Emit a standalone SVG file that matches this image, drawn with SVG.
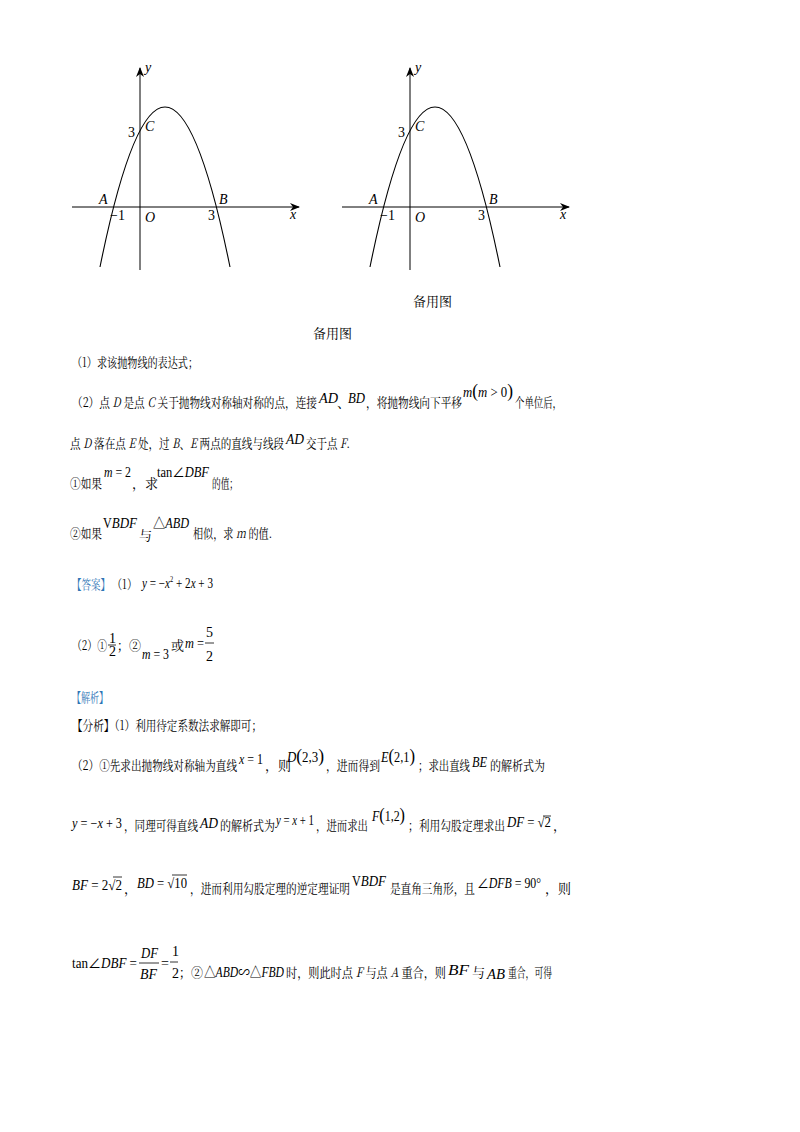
<svg xmlns="http://www.w3.org/2000/svg" width="800" height="1132" viewBox="0 0 800 1132">
<style>
text{font-family:"Liberation Serif","Noto Sans CJK SC",serif;font-size:14px;fill:#000}
.c{font-family:"Noto Serif CJK SC","Noto Sans CJK SC",serif;font-size:13px}
.i{font-style:italic}
.b{fill:#2e75b6}
.ax{stroke:#000;stroke-width:1;fill:none}
.cv{stroke:#000;stroke-width:1.1;fill:none}
.fr{stroke:#000;stroke-width:0.8}
</style>
<defs><marker id="ar" markerWidth="10" markerHeight="8" refX="9" refY="4" orient="auto" markerUnits="userSpaceOnUse"><path d="M0,0 L10,4 L0,8 L3,4 Z" fill="#000"/></marker></defs>
<g id="graph1">
<line class="ax" x1="72" y1="207" x2="299" y2="207" marker-end="url(#ar)"/>
<line class="ax" x1="140" y1="270" x2="140" y2="68" marker-end="url(#ar)"/>
<path class="cv" d="M100,267 Q165,-53 230,267"/>
<text class="i" x="145" y="72">y</text><text x="128" y="137">3</text><text class="i" x="145" y="131">C</text>
<text class="i" x="99" y="204">A</text><text class="i" x="219" y="204">B</text>
<text x="110" y="220">−1</text><text class="i" x="145" y="222">O</text><text x="208" y="220">3</text><text class="i" x="290" y="219">x</text>
</g>
<g id="graph2">
<line class="ax" x1="342" y1="207" x2="569" y2="207" marker-end="url(#ar)"/>
<line class="ax" x1="410" y1="270" x2="410" y2="68" marker-end="url(#ar)"/>
<path class="cv" d="M370,267 Q435,-53 500,267"/>
<text class="i" x="415" y="72">y</text><text x="398" y="137">3</text><text class="i" x="415" y="131">C</text>
<text class="i" x="369" y="204">A</text><text class="i" x="489" y="204">B</text>
<text x="380" y="220">−1</text><text class="i" x="415" y="222">O</text><text x="478" y="220">3</text><text class="i" x="560" y="219">x</text>
</g>
<text class="c" x="413" y="306">备用图</text>
<text class="c" x="313" y="338">备用图</text>

<text class="c" x="72" y="367" textLength="126" lengthAdjust="spacingAndGlyphs">（1）求该抛物线的表达式；</text>

<text class="c" x="72" y="407" textLength="245" lengthAdjust="spacingAndGlyphs">（2）点 <tspan class="i">D</tspan> 是点 <tspan class="i">C</tspan> 关于抛物线对称轴对称的点，连接</text>
<text class="i" x="319" y="403" font-size="15" textLength="19" lengthAdjust="spacingAndGlyphs">AD</text><text class="c" x="337" y="407">、</text><text class="i" x="348" y="403" font-size="15" textLength="17" lengthAdjust="spacingAndGlyphs">BD</text>
<text class="c" x="366" y="407" textLength="96" lengthAdjust="spacingAndGlyphs">，将抛物线向下平移</text>
<text x="463" y="397" font-size="15" textLength="50" lengthAdjust="spacingAndGlyphs"><tspan class="i">m</tspan><tspan font-size="19">(</tspan><tspan class="i">m</tspan> &gt; 0<tspan font-size="19">)</tspan></text>
<text class="c" x="515" y="407" textLength="47" lengthAdjust="spacingAndGlyphs">个单位后，</text>

<text class="c" x="70" y="448" textLength="214" lengthAdjust="spacingAndGlyphs">点 <tspan class="i">D</tspan> 落在点 <tspan class="i">E</tspan> 处，过 <tspan class="i">B</tspan>、<tspan class="i">E</tspan> 两点的直线与线段</text>
<text class="i" x="286" y="444" font-size="15" textLength="18" lengthAdjust="spacingAndGlyphs">AD</text>
<text class="c" x="306" y="448" textLength="44" lengthAdjust="spacingAndGlyphs">交于点 <tspan class="i">F</tspan>.</text>

<text class="c" x="70" y="488" textLength="32" lengthAdjust="spacingAndGlyphs">①如果</text>
<text x="104" y="477" font-size="15" textLength="27" lengthAdjust="spacingAndGlyphs"><tspan class="i">m</tspan> = 2</text>
<text class="c" x="132" y="488">，求</text>
<text x="157" y="477" font-size="15" textLength="52" lengthAdjust="spacingAndGlyphs">tan∠<tspan class="i">DBF</tspan></text>
<text class="c" x="212" y="488" textLength="26" lengthAdjust="spacingAndGlyphs">的值；</text>

<text class="c" x="70" y="538" textLength="32" lengthAdjust="spacingAndGlyphs">②如果</text>
<text x="103" y="528" font-size="17" textLength="34" lengthAdjust="spacingAndGlyphs">V<tspan class="i" font-size="15">BDF</tspan></text>
<text class="c" x="139" y="540">与</text>
<text x="153" y="528" font-size="15" textLength="36" lengthAdjust="spacingAndGlyphs">△<tspan class="i">ABD</tspan></text>
<text class="c" x="193" y="538" textLength="79" lengthAdjust="spacingAndGlyphs">相似，求 <tspan class="i">m</tspan> 的值.</text>

<text class="c b" x="72" y="589" textLength="38" lengthAdjust="spacingAndGlyphs">【答案】</text>
<text class="c" x="112" y="589" textLength="25" lengthAdjust="spacingAndGlyphs">（1）</text>
<text x="142" y="588" font-size="13" textLength="71" lengthAdjust="spacingAndGlyphs"><tspan class="i">y</tspan> = −<tspan class="i">x</tspan><tspan font-size="8" dy="-6">2</tspan><tspan dy="6"> + 2</tspan><tspan class="i">x</tspan> + 3</text>

<text class="c" x="72" y="650" textLength="35" lengthAdjust="spacingAndGlyphs">（2）①</text>
<text x="109" y="643" font-size="11">1</text><line class="fr" x1="108" y1="645" x2="116" y2="645"/><text x="109" y="656" font-size="11">2</text>
<text class="c" x="117" y="650" textLength="24" lengthAdjust="spacingAndGlyphs">；②</text>
<text x="142" y="659" font-size="15" textLength="27" lengthAdjust="spacingAndGlyphs"><tspan class="i">m</tspan> = 3</text>
<text class="c" x="171" y="650">或</text>
<text x="185" y="648" font-size="15" textLength="19" lengthAdjust="spacingAndGlyphs"><tspan class="i">m</tspan> =</text>
<text x="206" y="637" font-size="14">5</text><line class="fr" x1="205" y1="643" x2="214" y2="643"/><text x="206" y="661" font-size="14">2</text>

<text class="c b" x="72" y="702" textLength="36" lengthAdjust="spacingAndGlyphs">【解析】</text>
<text class="c" x="72" y="730" textLength="190" lengthAdjust="spacingAndGlyphs">【分析】（1）利用待定系数法求解即可；</text>

<text class="c" x="72" y="770" textLength="165" lengthAdjust="spacingAndGlyphs">（2）①先求出抛物线对称轴为直线</text>
<text x="239" y="764" font-size="15" textLength="24" lengthAdjust="spacingAndGlyphs"><tspan class="i">x</tspan> = 1</text>
<text class="c" x="265" y="770">，则</text>
<text x="287" y="762" font-size="15" textLength="37" lengthAdjust="spacingAndGlyphs"><tspan class="i">D</tspan><tspan font-size="19">(</tspan>2,3<tspan font-size="19">)</tspan></text>
<text class="c" x="326" y="770" textLength="54" lengthAdjust="spacingAndGlyphs">，进而得到</text>
<text x="381" y="762" font-size="15" textLength="34" lengthAdjust="spacingAndGlyphs"><tspan class="i">E</tspan><tspan font-size="19">(</tspan>2,1<tspan font-size="19">)</tspan></text>
<text class="c" x="418" y="770" textLength="52" lengthAdjust="spacingAndGlyphs">；求出直线</text>
<text class="i" x="472" y="767" textLength="15" lengthAdjust="spacingAndGlyphs">BE</text>
<text class="c" x="490" y="770" textLength="55" lengthAdjust="spacingAndGlyphs">的解析式为</text>

<text x="72" y="828" font-size="15" textLength="50" lengthAdjust="spacingAndGlyphs"><tspan class="i">y</tspan> = −<tspan class="i">x</tspan> + 3</text>
<text class="c" x="124" y="830" textLength="74" lengthAdjust="spacingAndGlyphs">，同理可得直线</text>
<text class="i" x="200" y="828" textLength="18" lengthAdjust="spacingAndGlyphs">AD</text>
<text class="c" x="220" y="830" textLength="55" lengthAdjust="spacingAndGlyphs">的解析式为</text>
<text x="276" y="825" font-size="13" textLength="38" lengthAdjust="spacingAndGlyphs"><tspan class="i">y</tspan> = <tspan class="i">x</tspan> + 1</text>
<text class="c" x="316" y="830" textLength="52" lengthAdjust="spacingAndGlyphs">，进而求出</text>
<text x="372" y="821" font-size="15" textLength="33" lengthAdjust="spacingAndGlyphs"><tspan class="i">F</tspan><tspan font-size="19">(</tspan>1,2<tspan font-size="19">)</tspan></text>
<text class="c" x="408" y="830" textLength="97" lengthAdjust="spacingAndGlyphs">；利用勾股定理求出</text>
<text x="507" y="827" font-size="13" textLength="44" lengthAdjust="spacingAndGlyphs"><tspan class="i">DF</tspan> = √2</text><line class="fr" x1="543" y1="816" x2="551" y2="816"/>
<text class="c" x="553" y="830">，</text>

<text x="72" y="890" font-size="15" textLength="50" lengthAdjust="spacingAndGlyphs"><tspan class="i">BF</tspan> = 2√2</text><line class="fr" x1="113" y1="877" x2="122" y2="877"/>
<text class="c" x="124" y="893">，</text>
<text x="137" y="888" font-size="15" textLength="50" lengthAdjust="spacingAndGlyphs"><tspan class="i">BD</tspan> = √10</text><line class="fr" x1="172" y1="875" x2="187" y2="875"/>
<text class="c" x="190" y="893" textLength="160" lengthAdjust="spacingAndGlyphs">，进而利用勾股定理的逆定理证明</text>
<text x="352" y="886" font-size="17" textLength="34" lengthAdjust="spacingAndGlyphs">V<tspan class="i" font-size="15">BDF</tspan></text>
<text class="c" x="390" y="893" textLength="85" lengthAdjust="spacingAndGlyphs">是直角三角形，且</text>
<text x="477" y="888" font-size="15" textLength="64" lengthAdjust="spacingAndGlyphs">∠<tspan class="i">DFB</tspan> = 90°</text>
<text class="c" x="545" y="893">，则</text>

<text x="72" y="968" font-size="15" textLength="65" lengthAdjust="spacingAndGlyphs">tan∠<tspan class="i">DBF</tspan> =</text>
<text class="i" x="141" y="958" font-size="15" textLength="17" lengthAdjust="spacingAndGlyphs">DF</text><line class="fr" x1="139" y1="963" x2="159" y2="963"/><text class="i" x="140" y="979" font-size="15" textLength="17" lengthAdjust="spacingAndGlyphs">BF</text>
<text x="161" y="968" font-size="15">=</text>
<text x="172" y="956" font-size="14">1</text><line class="fr" x1="170" y1="962" x2="178" y2="962"/><text x="172" y="978" font-size="14">2</text>
<text class="c" x="179" y="977" textLength="24" lengthAdjust="spacingAndGlyphs">；②</text>
<text x="204" y="977" font-size="15" textLength="80" lengthAdjust="spacingAndGlyphs">△<tspan class="i">ABD</tspan>∽△<tspan class="i">FBD</tspan></text>
<text class="c" x="286" y="977" textLength="160" lengthAdjust="spacingAndGlyphs">时，则此时点 <tspan class="i">F</tspan> 与点 <tspan class="i">A</tspan> 重合，则</text>
<text class="i" x="448" y="975" font-size="16" textLength="21" lengthAdjust="spacingAndGlyphs">BF</text>
<text class="c" x="472" y="977">与</text>
<text class="i" x="487" y="979" font-size="14" textLength="18" lengthAdjust="spacingAndGlyphs">AB</text>
<text class="c" x="508" y="977" textLength="44" lengthAdjust="spacingAndGlyphs">重合，可得</text>
</svg>
